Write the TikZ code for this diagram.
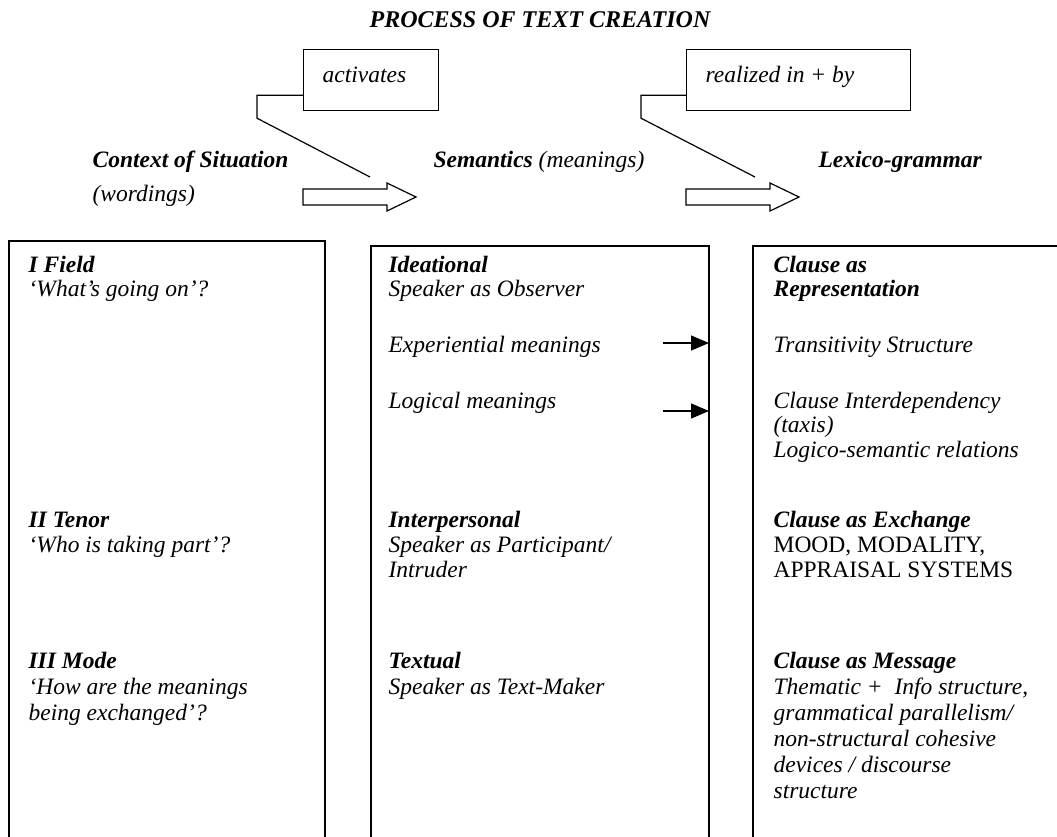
\documentclass[tikz,border=0pt]{standalone}
\usepackage{fontspec}
\setmainfont{Liberation Serif}
\usetikzlibrary{arrows.meta}
\begin{document}
\begin{tikzpicture}[x=1pt,y=-1pt, line width=1.2pt, line join=miter,
  txt/.style={anchor=base west, inner sep=0pt, font=\fontsize{23.5}{25}\selectfont\itshape},
  hd/.style={anchor=base west, inner sep=0pt, font=\fontsize{23.5}{25}\selectfont\bfseries\itshape},
  up/.style={anchor=base west, inner sep=0pt, font=\fontsize{23.5}{25}\selectfont},
  callbox/.style={draw, anchor=north west, minimum width=135pt, minimum height=61pt, inner sep=0pt},
  hollow/.style={draw, fill=white, line width=1.2pt},
  smallarr/.style={-{Triangle[length=18pt,width=15pt]}, line width=1.2pt}]
\path[use as bounding box, clip] (0,0) rectangle (1057,836);
\fill[white] (0,0) rectangle (1057,836);

% title
\node[anchor=base, inner sep=0pt, font=\fontsize{24}{26}\selectfont\bfseries\itshape] (title) at (540,27) {PROCESS OF TEXT CREATION};

% callout boxes
\node[callbox] (act) at (303,49) {};
\node[txt] (actt) at (322,82) {activates};
\node[callbox, minimum width=224pt] (rea) at (686,49) {};
\node[txt] (reat) at (705,82) {realized in + by};
\coordinate (acttip) at (370,177);
\coordinate (reatip) at (755,177);
\draw ([yshift=16pt]act.south west) -- ++(-46,0) -- ++(0,23) -- (acttip);
\draw ([yshift=16pt]rea.south west) -- ++(-45,0) -- ++(0,23) -- (reatip);

% headings
\node[hd] (cos) at (92,167) {Context of Situation};
\node[txt] (wrd) at (92,201) {(wordings)};
\node[hd] (sem) at (433,167) {Semantics \textmd{(meanings)}};
\node[hd] (lex) at (818,167) {Lexico-grammar};

% hollow arrows
\draw[hollow] (303,189) -- (387,189) -- (387,183) -- (416,197) -- (387,211) -- (387,205) -- (303,205) -- cycle;
\draw[hollow] (686,189) -- (770,189) -- (770,183) -- (799,197) -- (770,211) -- (770,205) -- (686,205) -- cycle;

% columns
\draw (9,860) -- (9,241) -- (325,241) -- (325,860);
\draw (371,860) -- (371,246) -- (709,246) -- (709,860);
\draw (753,860) -- (753,246) -- (1070,246);
\coordinate (midR1) at (709,343);
\coordinate (midR2) at (709,411);
\coordinate (a1) at (663,343);
\coordinate (a2) at (663,411);
\draw[smallarr] (a1) -- (midR1);
\draw[smallarr] (a2) -- (midR2);

% left column
\node[hd] (f1) at (28,272) {I Field};
\node[txt] (f2) at (28,296) {‘What’s going on’?};
\node[hd] (t1) at (28,527) {II Tenor};
\node[txt] (t2) at (28,552) {‘Who is taking part’?};
\node[hd] (m1) at (28,668) {III Mode};
\node[txt] (m2) at (28,694) {‘How are the meanings};
\node[txt] (m3) at (28,720) {being exchanged’?};

% middle column
\node[hd] (i1) at (388,272) {Ideational};
\node[txt] (i2) at (388,296) {Speaker as Observer};
\node[txt] (i3) at (388,352) {Experiential meanings};
\node[txt] (i4) at (388,408) {Logical meanings};
\node[hd] (p1) at (388,527) {Interpersonal};
\node[txt] (p2) at (388,552) {Speaker as Participant/};
\node[txt] (p3) at (388,577) {Intruder};
\node[hd] (x1) at (388,668) {Textual};
\node[txt] (x2) at (388,694) {Speaker as Text-Maker};

% right column
\node[hd] (r1) at (773,272) {Clause as};
\node[hd] (r2) at (773,296) {Representation};
\node[txt] (r3) at (773,352) {Transitivity Structure};
\node[txt] (r4) at (773,408) {Clause Interdependency};
\node[txt] (r5) at (773,432) {(taxis)};
\node[txt] (r6) at (773,457) {Logico-semantic relations};
\node[hd] (e1) at (773,527) {Clause as Exchange};
\node[up] (e2) at (773,552) {MOOD, MODALITY,};
\node[up] (e3) at (773,577) {APPRAISAL SYSTEMS};
\node[hd] (g1) at (773,668) {Clause as Message};
\node[txt] (g2) at (773,694) {Thematic +\ \ Info structure,};
\node[txt] (g3) at (773,720) {grammatical parallelism/};
\node[txt] (g4) at (773,746) {non-structural cohesive};
\node[txt] (g5) at (773,772) {devices / discourse};
\node[txt] (g6) at (773,798) {structure};
\end{tikzpicture}
\end{document}
